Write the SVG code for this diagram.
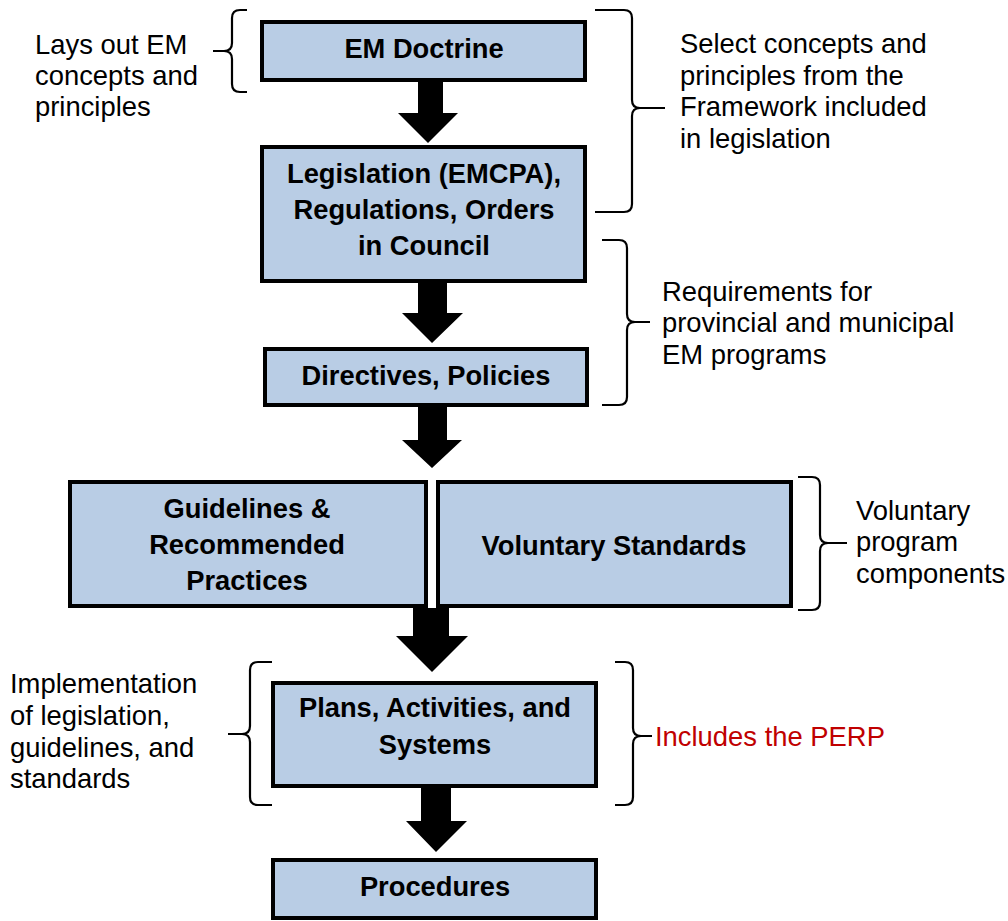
<svg xmlns="http://www.w3.org/2000/svg" width="1008" height="921" viewBox="0 0 1008 921">
<style>
.box{fill:#B9CDE5;stroke:#000;stroke-width:4}
.bt{font-family:"Liberation Sans",Arial,sans-serif;font-weight:bold;font-size:27.3px;fill:#000;text-anchor:middle}
.nt{font-family:"Liberation Sans",Arial,sans-serif;font-size:27.4px;fill:#000}
.red{fill:#C00000}
.brace{fill:none;stroke:#000;stroke-width:2.2;stroke-linecap:butt}
.arrow{fill:#000}
</style>
<rect width="1008" height="921" fill="#fff"/>
<g id="connectors">
<polygon class="arrow" points="418,82 443,82 443,113 458,113 428,143 398,113 418,113"/>
<polygon class="arrow" points="418,283 447,283 447,313 463,313 432,343 402,313 418,313"/>
<polygon class="arrow" points="418,407 447,407 447,440 462,440 432,468 402,440 418,440"/>
<polygon class="arrow" points="413,608 449,608 449,636 468,636 432,672 396,636 413,636"/>
<polygon class="arrow" points="421,788 451,788 451,821 467,821 436,852 406,821 421,821"/>
</g>
<g id="node-doctrine">
<rect class="box" x="262" y="22" width="323" height="58"/>
<text class="bt" x="424" y="58">EM Doctrine</text>
</g>
<g id="node-legislation">
<rect class="box" x="262" y="147" width="323" height="134"/>
<text class="bt" x="424" y="183">Legislation (EMCPA),</text>
<text class="bt" x="424" y="219">Regulations, Orders</text>
<text class="bt" x="424" y="255">in Council</text>
</g>
<g id="node-directives">
<rect class="box" x="265" y="349" width="322" height="56"/>
<text class="bt" x="426" y="385">Directives, Policies</text>
</g>
<g id="node-guidelines">
<rect class="box" x="70" y="482" width="356" height="124"/>
<text class="bt" x="247" y="518">Guidelines &amp;</text>
<text class="bt" x="247" y="554">Recommended</text>
<text class="bt" x="247" y="590">Practices</text>
</g>
<g id="node-voluntary">
<rect class="box" x="438" y="482" width="353" height="124"/>
<text class="bt" x="614" y="555">Voluntary Standards</text>
</g>
<g id="node-plans">
<rect class="box" x="273" y="683" width="323" height="103"/>
<text class="bt" x="435" y="717">Plans, Activities, and</text>
<text class="bt" x="435" y="754">Systems</text>
</g>
<g id="node-procedures">
<rect class="box" x="273" y="860" width="323" height="58"/>
<text class="bt" x="435" y="896">Procedures</text>
</g>
<g id="annotations">
<path class="brace" d="M247,10 H240 Q232,10 232,18 V43 Q232,51 224,51 H213 M224,51 Q232,51 232,59 V84 Q232,92 240,92 H247"/>
<path class="brace" d="M595,10 H624 Q632,10 632,18 V100 Q632,108 640,108 H665 M640,108 Q632,108 632,116 V204 Q632,212 624,212 H595"/>
<path class="brace" d="M602,240 H619 Q627,240 627,248 V314 Q627,322 635,322 H650 M635,322 Q627,322 627,330 V397 Q627,405 619,405 H602"/>
<path class="brace" d="M798,477 H812 Q820,477 820,485 V535 Q820,543 828,543 H847 M828,543 Q820,543 820,551 V602 Q820,610 812,610 H798"/>
<path class="brace" d="M272,662 H258 Q250,662 250,670 V726 Q250,734 242,734 H228 M242,734 Q250,734 250,742 V797 Q250,805 258,805 H272"/>
<path class="brace" d="M615,662 H625 Q633,662 633,670 V728 Q633,736 641,736 H652 M641,736 Q633,736 633,744 V797 Q633,805 625,805 H615"/>
<text class="nt" x="35" y="54">Lays out EM</text>
<text class="nt" x="35" y="85">concepts and</text>
<text class="nt" x="35" y="116">principles</text>
<text class="nt" x="680" y="53">Select concepts and</text>
<text class="nt" x="680" y="85">principles from the</text>
<text class="nt" x="680" y="116">Framework included</text>
<text class="nt" x="680" y="148">in legislation</text>
<text class="nt" x="662" y="301">Requirements for</text>
<text class="nt" x="662" y="332">provincial and municipal</text>
<text class="nt" x="662" y="364">EM programs</text>
<text class="nt" x="856" y="520">Voluntary</text>
<text class="nt" x="856" y="551">program</text>
<text class="nt" x="856" y="583">components</text>
<text class="nt" x="10" y="693">Implementation</text>
<text class="nt" x="10" y="725">of legislation,</text>
<text class="nt" x="10" y="757">guidelines, and</text>
<text class="nt" x="10" y="788">standards</text>
<text class="nt red" x="655" y="746">Includes the PERP</text>
</g>
</svg>
